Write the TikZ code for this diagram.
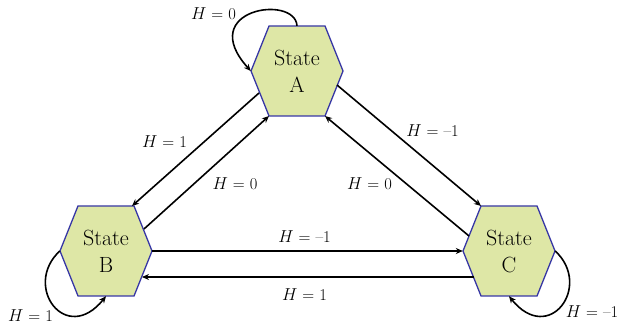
\documentclass[tikz,border=0pt]{standalone}
\usetikzlibrary{backgrounds, arrows.meta}
\definecolor{hexfill}{RGB}{222,231,166}
\definecolor{hexline}{RGB}{55,55,165}

\begin{document}
\begin{tikzpicture}[x=1pt, y=1pt, >={Stealth[length=7pt, width=6pt]},
  state/.style={minimum width=92pt, minimum height=90pt, inner sep=0pt, align=center,
    font=\fontsize{22}{27}\selectfont},
  hexa/.style={fill=hexfill, draw=hexline, line width=1.3pt},
  trans/.style={->, line width=1.6pt},
  lbl/.style={font=\fontsize{16.5}{19}\selectfont}]
  \useasboundingbox (0,0) rectangle (619,324);

  % States
  \node[state] (A) at (297,253) {State\\A};
  \node[state] (B) at (106,73) {State\\B};
  \node[state] (C) at (509,73) {State\\C};

  % Hexagons behind the states
  \begin{scope}[on background layer]
    \foreach \s in {A,B,C}
      \draw[hexa, shift={(\s.center)}] (-46,0) -- (-28,45) -- (28,45) -- (46,0) -- (28,-45) -- (-28,-45) -- cycle;
  \end{scope}

  % Transitions between states
  \draw[trans] ([shift={(-38,-22)}]A.center) -- ([shift={(26,45)}]B.center);
  \draw[trans] ([shift={(38,22)}]B.center) -- ([shift={(-28,-45)}]A.center);
  \draw[trans] ([shift={(40,-14)}]A.center) -- ([shift={(-28,45)}]C.center);
  \draw[trans] ([shift={(-40,15)}]C.center) -- ([shift={(28,-45)}]A.center);
  \draw[trans] (B.east) -- (C.west);
  \draw[trans] ([shift={(-35,-26)}]C.center) -- ([shift={(36,-26)}]B.center);

  % Self loops
  \draw[trans] (A.north) .. controls ([shift={(-2,77)}]A.center) and ([shift={(-102,62)}]A.center) .. (A.west);
  \draw[trans] (B.west) .. controls ([shift={(-84,-35)}]B.center) and ([shift={(-40,-95)}]B.center) .. (B.south);
  \draw[trans] (C.east) .. controls ([shift={(84,-35)}]C.center) and ([shift={(40,-95)}]C.center) .. (C.south);

  % Labels
  \node[lbl] (hAA) at (213.5,310) {$H$ = 0};
  \node[lbl] (hAB) at (164.5,182.5) {$H$ = 1};
  \node[lbl] (hBA) at (235,140) {$H$ = 0};
  \node[lbl] (hAC) at (432.5,193) {$H$ = --1};
  \node[lbl] (hCA) at (369.5,140) {$H$ = 0};
  \node[lbl] (hBC) at (304.5,87) {$H$ = --1};
  \node[lbl] (hCB) at (304.5,29.5) {$H$ = 1};
  \node[lbl] (hBB) at (30.5,8) {$H$ = 1};
  \node[lbl] (hCC) at (592,12.5) {$H$ = --1};
\end{tikzpicture}
\end{document}
